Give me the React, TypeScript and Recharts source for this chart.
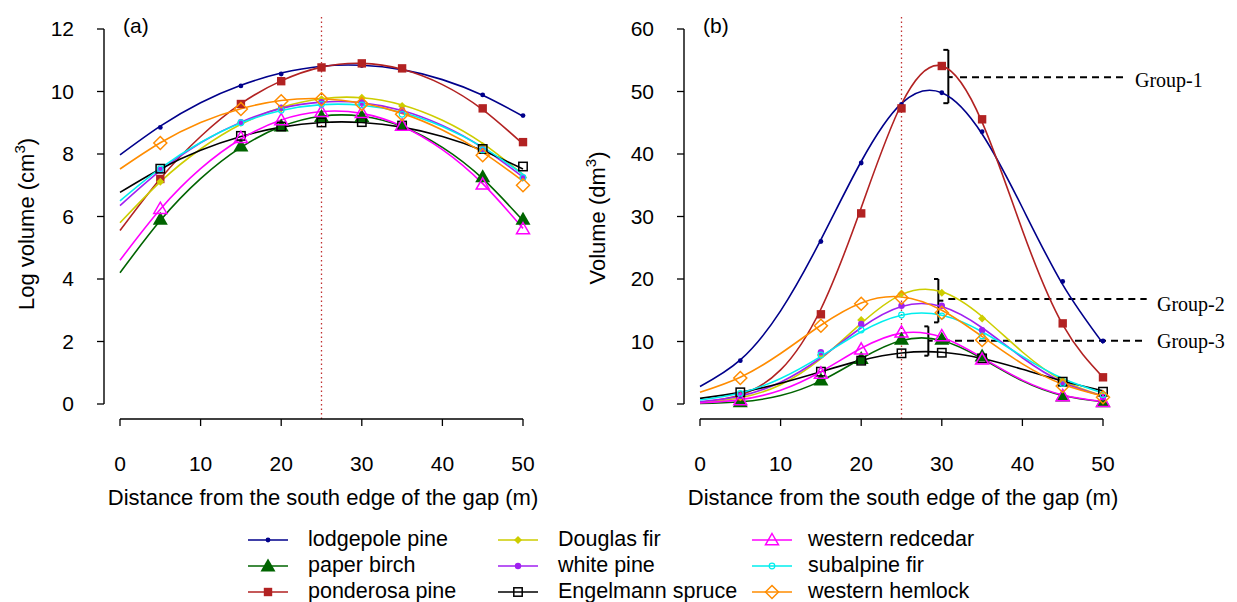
import React from 'react';
import { LineChart, Line, XAxis, YAxis, ReferenceLine } from 'recharts';

// ---------- data ----------
const X_POS = [0, 5, 10, 15, 20, 25, 30, 35, 40, 45, 50];
const MARK_X = [5, 15, 20, 25, 30, 35, 45, 50];
const X_TICKS = [0, 10, 20, 30, 40, 50];
const YA_TICKS = [0, 2, 4, 6, 8, 10, 12];
const YB_TICKS = [0, 10, 20, 30, 40, 50, 60];

const SPECIES_NAMES = [
  'lodgepole pine', 'paper birch', 'ponderosa pine',
  'Douglas fir', 'white pine', 'Engelmann spruce',
  'western redcedar', 'subalpine fir', 'western hemlock',
];

// Panel (a): log volume (cm3), fitted curves at X_POS, observed markers at MARK_X
const lodgepoleCurveA = [7.97, 8.89, 9.64, 10.2, 10.59, 10.81, 10.84, 10.7, 10.38, 9.88, 9.21];
const lodgepoleMarkA = [8.85, 10.18, 10.56, 10.8, 10.83, 10.7, 9.89, 9.23];
const birchCurveA = [4.2, 5.87, 7.21, 8.21, 8.88, 9.21, 9.21, 8.88, 8.21, 7.21, 5.87];
const birchMarkA = [5.91, 8.26, 8.9, 9.2, 9.2, 8.91, 7.27, 5.91];
const ponderosaCurveA = [5.55, 7.21, 8.56, 9.61, 10.34, 10.78, 10.9, 10.71, 10.22, 9.42, 8.32];
const ponderosaMarkA = [7.2, 9.6, 10.33, 10.77, 10.9, 10.74, 9.46, 8.38];
const douglasCurveA = [5.8, 7.11, 8.16, 8.95, 9.49, 9.77, 9.8, 9.57, 9.08, 8.34, 7.34];
const douglasMarkA = [7.11, 9.0, 9.46, 9.75, 9.8, 9.54, 8.26, 7.25];
const whiteCurveA = [6.35, 7.47, 8.36, 9.02, 9.46, 9.66, 9.64, 9.39, 8.91, 8.2, 7.26];
const whiteMarkA = [7.49, 9.02, 9.48, 9.66, 9.65, 9.39, 8.15, 7.24];
const engelmannCurveA = [6.77, 7.52, 8.12, 8.56, 8.86, 9.01, 9.01, 8.86, 8.56, 8.11, 7.52];
const engelmannMarkA = [7.53, 8.58, 8.88, 9.01, 9.02, 8.91, 8.16, 7.6];
const redcedarCurveA = [4.6, 6.23, 7.53, 8.48, 9.09, 9.36, 9.3, 8.89, 8.14, 7.05, 5.62];
const redcedarMarkA = [6.25, 8.52, 9.09, 9.35, 9.32, 8.91, 7.03, 5.6];
const subalpineCurveA = [6.5, 7.54, 8.37, 8.99, 9.39, 9.58, 9.56, 9.33, 8.88, 8.22, 7.35];
const subalpineMarkA = [7.53, 9.0, 9.4, 9.59, 9.57, 9.27, 8.13, 7.25];
const hemlockCurveA = [7.52, 8.36, 9.01, 9.45, 9.71, 9.77, 9.63, 9.3, 8.77, 8.05, 7.13];
const hemlockMarkA = [8.35, 9.44, 9.69, 9.75, 9.6, 9.27, 7.96, 7.0];

// Panel (b): volume (dm3)
const lodgepoleCurveB = [2.8, 7.05, 14.9, 26.3, 38.8, 48.1, 49.8, 43.2, 31.4, 19.1, 9.7];
const lodgepoleMarkB = [6.93, 26.0, 38.56, 47.95, 49.8, 43.57, 19.6, 10.08];
const birchCurveB = [0.07, 0.35, 1.35, 3.7, 7.27, 10.16, 10.16, 7.27, 3.7, 1.35, 0.35];
const birchMarkB = [0.37, 3.84, 7.3, 10.35, 10.35, 7.68, 1.28, 0.37];
const ponderosaCurveB = [0.28, 1.44, 5.45, 15.2, 31.4, 48.0, 54.1, 45.1, 27.8, 12.7, 4.27];
const ponderosaMarkB = [1.2, 14.35, 30.5, 47.3, 54.08, 45.55, 12.9, 4.27];
const douglasCurveB = [0.25, 1.0, 3.09, 7.25, 12.9, 17.5, 17.95, 14.0, 8.32, 3.75, 1.28];
const douglasMarkB = [1.07, 7.84, 13.44, 17.7, 17.8, 13.7, 3.68, 1.28];
const whiteCurveB = [0.37, 1.28, 3.49, 7.4, 12.2, 15.6, 15.6, 12.2, 7.4, 3.49, 1.28];
const whiteMarkB = [1.3, 8.27, 12.8, 15.73, 15.73, 11.79, 3.3, 1.07];
const engelmannCurveB = [0.9, 1.86, 3.33, 5.17, 6.98, 8.16, 8.28, 7.28, 5.56, 3.68, 2.11];
const engelmannMarkB = [1.87, 5.17, 6.93, 8.11, 8.2, 7.3, 3.57, 1.97];
const redcedarCurveB = [0.16, 0.7, 2.21, 5.17, 8.91, 11.34, 10.68, 7.43, 3.82, 1.45, 0.4];
const redcedarMarkB = [0.64, 4.9, 8.75, 11.47, 10.88, 7.15, 1.28, 0.37];
const subalpineCurveB = [0.63, 1.77, 4.08, 7.62, 11.56, 14.2, 14.2, 11.56, 7.62, 4.08, 1.77];
const subalpineMarkB = [1.7, 7.84, 11.84, 14.24, 14.08, 10.9, 3.3, 1.5];
const hemlockCurveB = [1.87, 4.28, 8.08, 12.6, 16.17, 17.13, 15.0, 10.8, 6.42, 3.15, 1.27];
const hemlockMarkB = [4.16, 12.53, 16.05, 17.0, 14.6, 10.24, 2.88, 1.07];

const GROUP_LABELS = ['Group-1', 'Group-2', 'Group-3'];

// ---------- styles ----------
const SANS = "'Liberation Sans', Arial, Helvetica, sans-serif";
const SERIF = "'Liberation Serif', 'Times New Roman', serif";

type Shape = 'dot' | 'triFilled' | 'squareFilled' | 'diamondFilled' | 'circleFilled' | 'squareOpen' | 'triOpen' | 'circleOpen' | 'diamondOpen';

const STYLES: { color: string; shape: Shape }[] = [
  { color: '#00008B', shape: 'dot' },
  { color: '#006400', shape: 'triFilled' },
  { color: '#B22222', shape: 'squareFilled' },
  { color: '#CDCD00', shape: 'diamondFilled' },
  { color: '#A020F0', shape: 'circleFilled' },
  { color: '#000000', shape: 'squareOpen' },
  { color: '#FF00FF', shape: 'triOpen' },
  { color: '#00EEEE', shape: 'circleOpen' },
  { color: '#FF8C00', shape: 'diamondOpen' },
];

const CURVES_A = [lodgepoleCurveA, birchCurveA, ponderosaCurveA, douglasCurveA, whiteCurveA, engelmannCurveA, redcedarCurveA, subalpineCurveA, hemlockCurveA];
const MARKS_A = [lodgepoleMarkA, birchMarkA, ponderosaMarkA, douglasMarkA, whiteMarkA, engelmannMarkA, redcedarMarkA, subalpineMarkA, hemlockMarkA];
const CURVES_B = [lodgepoleCurveB, birchCurveB, ponderosaCurveB, douglasCurveB, whiteCurveB, engelmannCurveB, redcedarCurveB, subalpineCurveB, hemlockCurveB];
const MARKS_B = [lodgepoleMarkB, birchMarkB, ponderosaMarkB, douglasMarkB, whiteMarkB, engelmannMarkB, redcedarMarkB, subalpineMarkB, hemlockMarkB];

function buildRows(curves: number[][], marks: number[][]) {
  return X_POS.map((x, i) => {
    const row: Record<string, number | null> = { x };
    curves.forEach((c, s) => {
      row[`c${s}`] = c[i];
      const mi = MARK_X.indexOf(x);
      row[`m${s}`] = mi >= 0 ? marks[s][mi] : null;
    });
    return row;
  });
}

const ROWS_A = buildRows(CURVES_A, MARKS_A);
const ROWS_B = buildRows(CURVES_B, MARKS_B);

// ---------- layout ----------
const X_DOMAIN = [0, 50];
const CHART_H = 480;
const M_TOP = 29;
const X_GAP = 15;     // R-style gap between plot region and x axis
const Y_GAP = 16;     // R-style gap between plot region and y axis
const X_AXIS_H = 61;
const Y_AXIS_W = 104;
const PLOT_W = 403;

function Mark({ shape, color, cx, cy }: { shape: Shape; color: string; cx: number; cy: number }) {
  switch (shape) {
    case 'dot':
      return <circle cx={cx} cy={cy} r={2.4} fill={color} />;
    case 'circleFilled':
      return <circle cx={cx} cy={cy} r={3.2} fill={color} />;
    case 'circleOpen':
      return <circle cx={cx} cy={cy} r={2.8} fill="none" stroke={color} strokeWidth={1.2} />;
    case 'squareFilled':
      return <rect x={cx - 4.2} y={cy - 4.2} width={8.4} height={8.4} fill={color} />;
    case 'squareOpen':
      return <rect x={cx - 4.2} y={cy - 4.2} width={8.4} height={8.4} fill="none" stroke={color} strokeWidth={1.5} />;
    case 'triFilled':
      return <polygon points={`${cx},${cy - 7.5} ${cx + 7.5},${cy + 5.5} ${cx - 7.5},${cy + 5.5}`} fill={color} />;
    case 'triOpen':
      return <polygon points={`${cx},${cy - 6.5} ${cx + 6.5},${cy + 4.8} ${cx - 6.5},${cy + 4.8}`} fill="none" stroke={color} strokeWidth={1.5} />;
    case 'diamondFilled':
      return <polygon points={`${cx},${cy - 4} ${cx + 4},${cy} ${cx},${cy + 4} ${cx - 4},${cy}`} fill={color} />;
    case 'diamondOpen':
      return <polygon points={`${cx},${cy - 6.5} ${cx + 6.5},${cy} ${cx},${cy + 6.5} ${cx - 6.5},${cy}`} fill="none" stroke={color} strokeWidth={1.5} />;
    default:
      return null;
  }
}

const makeDot = (s: number) => (props: any) => {
  const { cx, cy, index, payload } = props;
  const v = payload ? payload[`m${s}`] : null;
  if (v == null || cx == null || cy == null || Number.isNaN(cy)) return <g key={`e${s}-${index}`} />;
  return (
    <g key={`d${s}-${index}`}>
      <Mark shape={STYLES[s].shape} color={STYLES[s].color} cx={cx} cy={cy} />
    </g>
  );
};

// annotation geometry in panel (b) data units
const BRACKETS = [
  { x: 30.81, xl: 30.19, y1: 48.13, y2: 56.66, ym: 52.3, xt: 31.35, dy: 52.3, dx1: 32.26, dx2: 52.73 },
  { x: 29.57, xl: 29.03, y1: 13.06, y2: 20.0, ym: 16.53, xt: 30.19, dy: 16.8, dx1: 30.81, dx2: 55.42 },
  { x: 28.33, xl: 27.83, y1: 7.73, y2: 12.42, ym: 10.13, xt: 28.87, dy: 10.13, dx1: 30.15, dx2: 55.42 },
];

const tickStyle = { fill: '#000', fontSize: 21, fontFamily: SANS };
const tickLineStyle = { stroke: '#000', strokeWidth: 1.3 };
const axisLineStyle = { stroke: '#000', strokeWidth: 1.4 };
const AX = 1; // id of the visible axes (id 0 = spacer axes next to the plot)

function Panel({ rows, yDomain, yTicks, yExt, width, annotate }: any) {
  return (
    <LineChart width={width} height={CHART_H} data={rows}
      margin={{ top: M_TOP, right: width - Y_GAP - Y_AXIS_W - PLOT_W, bottom: 0, left: 0 }}>
      <XAxis xAxisId={0} type="number" dataKey="x" domain={X_DOMAIN} height={X_GAP} tick={false} tickLine={false} axisLine={false} />
      <YAxis yAxisId={0} type="number" domain={yDomain} width={Y_GAP} tick={false} tickLine={false} axisLine={false} />
      <XAxis xAxisId={AX} type="number" dataKey="x" domain={X_DOMAIN} ticks={X_TICKS} interval={0}
        axisLine={axisLineStyle} tickLine={tickLineStyle} tickSize={7} tickMargin={30} height={X_AXIS_H} tick={tickStyle} />
      <YAxis yAxisId={AX} type="number" domain={yDomain} ticks={yTicks} interval={0}
        axisLine={axisLineStyle} tickLine={tickLineStyle} tickSize={7} tickMargin={23} width={Y_AXIS_W} tick={tickStyle} />
      <ReferenceLine xAxisId={AX} yAxisId={AX} segment={[{ x: 25, y: yExt[0] }, { x: 25, y: yExt[1] }]}
        stroke="#C03030" strokeWidth={1.3} strokeDasharray="1.5 3" ifOverflow="visible" />
      {annotate && BRACKETS.map((b, i) => [
        <ReferenceLine key={`bv${i}`} xAxisId={AX} yAxisId={AX} segment={[{ x: b.x, y: b.y1 }, { x: b.x, y: b.y2 }]} stroke="#000" strokeWidth={2} ifOverflow="visible" />,
        <ReferenceLine key={`bt${i}`} xAxisId={AX} yAxisId={AX} segment={[{ x: b.xl, y: b.y2 }, { x: b.x, y: b.y2 }]} stroke="#000" strokeWidth={2} ifOverflow="visible" />,
        <ReferenceLine key={`bb${i}`} xAxisId={AX} yAxisId={AX} segment={[{ x: b.xl, y: b.y1 }, { x: b.x, y: b.y1 }]} stroke="#000" strokeWidth={2} ifOverflow="visible" />,
        <ReferenceLine key={`bm${i}`} xAxisId={AX} yAxisId={AX} segment={[{ x: b.x, y: b.ym }, { x: b.xt, y: b.ym }]} stroke="#000" strokeWidth={2} ifOverflow="visible" />,
        <ReferenceLine key={`bd${i}`} xAxisId={AX} yAxisId={AX} segment={[{ x: b.dx1, y: b.dy }, { x: b.dx2, y: b.dy }]} stroke="#000" strokeWidth={2} strokeDasharray="7 5" ifOverflow="visible" />,
      ])}
      {STYLES.map((st, s) => (
        <Line key={`c${s}`} xAxisId={AX} yAxisId={AX} type="natural" dataKey={`c${s}`} stroke={st.color} strokeWidth={1.6} dot={false} activeDot={false} isAnimationActive={false} />
      ))}
      {STYLES.map((st, s) => (
        <Line key={`m${s}`} xAxisId={AX} yAxisId={AX} type="linear" dataKey={`m${s}`} stroke="none" strokeWidth={0} dot={makeDot(s)} activeDot={false} isAnimationActive={false} />
      ))}
    </LineChart>
  );
}

const LEGEND_COLS = [
  { x1: 248, x2: 288, tx: 308 },
  { x1: 498, x2: 538, tx: 558 },
  { x1: 752, x2: 792, tx: 808 },
];
const LEGEND_ROWS = [540, 566, 592];

const YA_DOMAIN = [0, 12];
const YB_DOMAIN = [0, 60];
const YA_EXT = [-0.48, 12.48];
const YB_EXT = [-2.4, 62.4];
const PANEL_B_LEFT = 580;

export default function App() {
  return (
    <div style={{ position: 'absolute', left: 0, top: 0, width: 1237, height: 602, background: '#fff', overflow: 'hidden' }}>
      <div style={{ position: 'absolute', left: 0, top: 0 }}>
        <Panel rows={ROWS_A} yDomain={YA_DOMAIN} yTicks={YA_TICKS} yExt={YA_EXT} width={560} annotate={false} />
      </div>
      <div style={{ position: 'absolute', left: PANEL_B_LEFT, top: 0 }}>
        <Panel rows={ROWS_B} yDomain={YB_DOMAIN} yTicks={YB_TICKS} yExt={YB_EXT} width={657} annotate={true} />
      </div>
      <svg width={1237} height={602} style={{ position: 'absolute', left: 0, top: 0, pointerEvents: 'none' }}>
        <text x={123} y={33} fontSize={21} fontFamily={SANS} fill="#000">(a)</text>
        <text x={703} y={33} fontSize={21} fontFamily={SANS} fill="#000">(b)</text>
        <text transform="translate(34,224) rotate(-90)" textAnchor="middle" fontSize={22} fontFamily={SANS} fill="#000">
          Log volume (cm<tspan dy={-9} fontSize={15}>3</tspan><tspan dy={9}>)</tspan>
        </text>
        <text transform="translate(605,218) rotate(-90)" textAnchor="middle" fontSize={22} fontFamily={SANS} fill="#000">
          Volume (dm<tspan dy={-9} fontSize={15}>3</tspan><tspan dy={9}>)</tspan>
        </text>
        <text x={323} y={505} textAnchor="middle" fontSize={22} fontFamily={SANS} fill="#000">Distance from the south edge of the gap (m)</text>
        <text x={903} y={505} textAnchor="middle" fontSize={22} fontFamily={SANS} fill="#000">Distance from the south edge of the gap (m)</text>
        <text x={1135} y={86.7} fontSize={20} fontFamily={SERIF} fill="#000">{GROUP_LABELS[0]}</text>
        <text x={1157} y={310.5} fontSize={20} fontFamily={SERIF} fill="#000">{GROUP_LABELS[1]}</text>
        <text x={1157} y={348.3} fontSize={20} fontFamily={SERIF} fill="#000">{GROUP_LABELS[2]}</text>
        {SPECIES_NAMES.map((name, i) => {
          const col = LEGEND_COLS[Math.floor(i / 3)];
          const y = LEGEND_ROWS[i % 3];
          const st = STYLES[i];
          return (
            <g key={name}>
              <line x1={col.x1} x2={col.x2} y1={y} y2={y} stroke={st.color} strokeWidth={1.6} />
              <Mark shape={st.shape} color={st.color} cx={(col.x1 + col.x2) / 2} cy={y} />
              <text x={col.tx} y={y + 6} fontSize={21.5} fontFamily={SANS} fill="#000">{name}</text>
            </g>
          );
        })}
      </svg>
    </div>
  );
}
